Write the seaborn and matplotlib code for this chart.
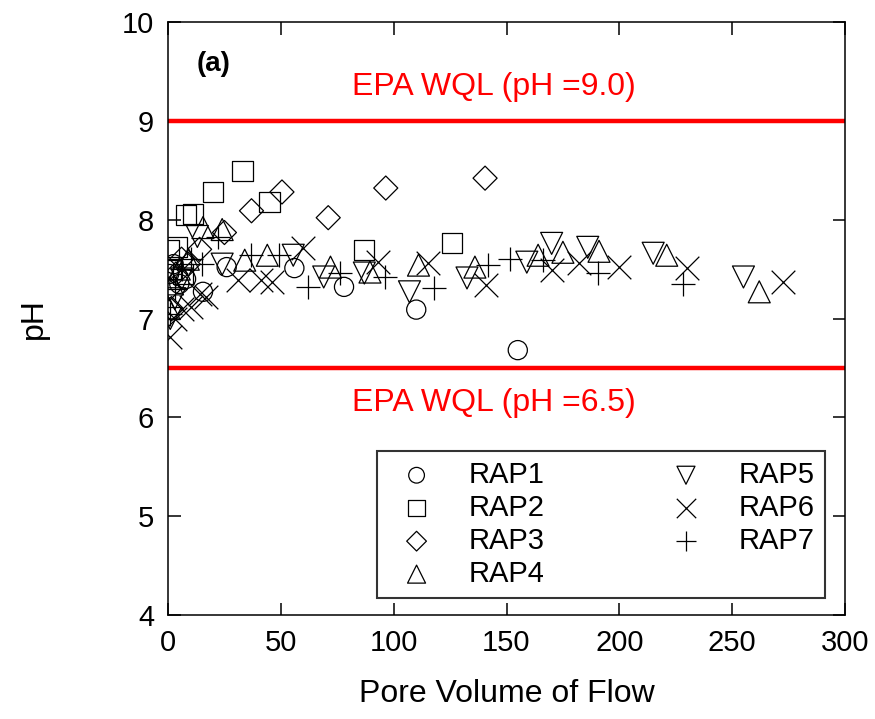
import matplotlib
matplotlib.use("Agg")
import matplotlib.pyplot as plt
import seaborn as sns
import pandas as pd

# ---- data ----
rap1_x = [0.5, 2.5, 5, 8, 15.5, 26, 56, 78, 110, 155]
rap1_y = [7.45, 7.55, 7.35, 7.4, 7.27, 7.52, 7.51, 7.32, 7.09, 6.68]
rap2_x = [0.5, 1.5, 4, 6.5, 8, 11, 20, 33, 45, 87, 126]
rap2_y = [7.69, 7.5, 7.72, 7.45, 8.05, 8.06, 8.28, 8.49, 8.18, 7.69, 7.76]
rap3_x = [0.5, 1.5, 3.5, 6, 9, 14, 25, 37, 50.5, 71, 96.5, 140.5]
rap3_y = [7.3, 7.1, 7.45, 7.6, 7.55, 7.7, 7.87, 8.09, 8.28, 8.02, 8.32, 8.42]
rap4_x = [0.5, 2, 5, 9, 15.5, 24, 34, 44, 72, 89.5, 111, 136, 164, 175, 191, 221, 262]
rap4_y = [7.1, 7.35, 7.5, 7.6, 7.92, 7.9, 7.59, 7.64, 7.52, 7.47, 7.54, 7.52, 7.64, 7.67, 7.68, 7.64, 7.27]
rap5_x = [1, 3, 6, 13, 24, 55.5, 69, 87, 107, 132.5, 159, 170, 186, 215, 255]
rap5_y = [7.0, 7.2, 7.4, 7.83, 7.55, 7.64, 7.42, 7.46, 7.27, 7.41, 7.57, 7.76, 7.72, 7.66, 7.42]
rap6_x = [1, 3, 6, 10, 14, 17, 31, 41, 46, 60, 93, 115, 141, 170, 182, 200, 230, 272.5]
rap6_y = [6.81, 7.0, 7.1, 7.12, 7.25, 7.22, 7.39, 7.39, 7.37, 7.71, 7.57, 7.56, 7.34, 7.49, 7.56, 7.52, 7.51, 7.37]
rap7_x = [1, 3, 6, 10, 15, 22, 37, 49, 62, 76, 96, 118, 142, 151.5, 166, 190.5, 228]
rap7_y = [7.05, 7.3, 7.5, 7.6, 7.55, 7.82, 7.64, 7.64, 7.32, 7.46, 7.42, 7.31, 7.54, 7.6, 7.59, 7.46, 7.35]

series_names = ["RAP1", "RAP2", "RAP3", "RAP4", "RAP5", "RAP6", "RAP7"]
series_x = [rap1_x, rap2_x, rap3_x, rap4_x, rap5_x, rap6_x, rap7_x]
series_y = [rap1_y, rap2_y, rap3_y, rap4_y, rap5_y, rap6_y, rap7_y]
limit_values = [9.0, 6.5]
limit_labels = ["EPA WQL (pH =9.0)", "EPA WQL (pH =6.5)"]
x_ticks = [0, 50, 100, 150, 200, 250, 300]
y_ticks = [4, 5, 6, 7, 8, 9, 10]

markers = ["o", "s", "D", "^", "v", "x", "+"]
sizes = [190, 210, 150, 250, 250, 290, 290]

sns.set_theme(style="ticks")
plt.rcParams["font.family"] = ["Liberation Sans", "DejaVu Sans"]
plt.rcParams["text.color"] = "black"
plt.rcParams["axes.labelcolor"] = "black"
plt.rcParams["xtick.color"] = "black"
plt.rcParams["ytick.color"] = "black"

fig = plt.figure(figsize=(8.75, 7.19), dpi=100)
ax = fig.add_axes([168 / 875, 1 - 615 / 719, (845 - 168) / 875, (615 - 22) / 719])

for name, xs, ys, m, s in zip(series_names, series_x, series_y, markers, sizes):
    df = pd.DataFrame({"x": xs, "y": ys})
    if m in ("x", "+"):
        sns.scatterplot(data=df, x="x", y="y", marker=m, s=s, color="black",
                        linewidth=0.9, ax=ax, label=name, zorder=3)
    else:
        sns.scatterplot(data=df, x="x", y="y", marker=m, s=s, facecolors="none",
                        edgecolor="black", linewidth=0.9, ax=ax, label=name, zorder=3)

for v in limit_values:
    ax.axhline(v, color="#ff0000", linewidth=3.2, zorder=2)

ax.text(144.5, 9.34, limit_labels[0], color="#ff0000", fontsize=23, ha="center", va="center")
ax.text(144.5, 6.15, limit_labels[1], color="#ff0000", fontsize=23, ha="center", va="center")
ax.text(20, 9.58, "(a)", fontsize=20, fontweight="bold", ha="center", va="center", color="black")

ax.set_xlim(0, 300)
ax.set_ylim(4, 10)
ax.set_xticks(x_ticks)
ax.set_yticks(y_ticks)
ax.tick_params(direction="in", length=9, width=1.1, labelsize=21, top=True, right=True,
               colors="black", labelcolor="black", pad=10)
for sp in ax.spines.values():
    sp.set_linewidth(1.1)
    sp.set_color("black")
ax.set_xlabel("Pore Volume of Flow", fontsize=23, color="black")
ax.set_ylabel("pH", fontsize=23, color="black")
ax.xaxis.set_label_coords(0.5, -0.108)
ax.yaxis.set_label_coords(-0.176, 0.5)

leg = ax.legend(loc="lower left", bbox_to_anchor=(0.309, 0.0287, 0.661, 0.271),
                mode="expand", ncol=2, fontsize=21, frameon=True, fancybox=False,
                borderpad=0.35, labelspacing=0.17, handletextpad=0.8, markerscale=0.82,
                borderaxespad=0)
leg.get_frame().set_edgecolor("black")
leg.get_frame().set_linewidth(1.5)
for t in leg.get_texts():
    t.set_color("black")

fig.savefig("out.png", dpi=100)
